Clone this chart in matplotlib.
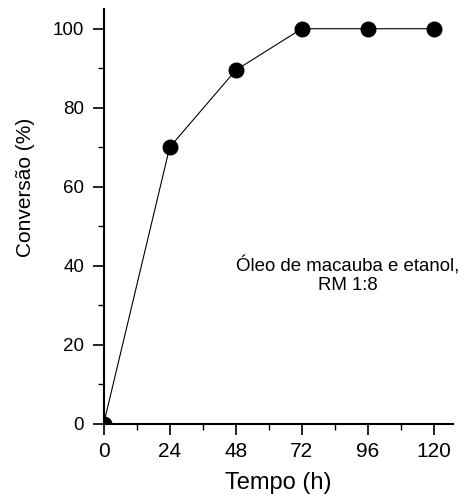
import matplotlib
matplotlib.use("Agg")
import matplotlib.pyplot as plt
from matplotlib.ticker import MultipleLocator

tempo = [0, 24, 48, 72, 96, 120]
conversao = [0, 70, 89.5, 100, 100, 100]
xticks = [0, 24, 48, 72, 96, 120]
yticks = [0, 20, 40, 60, 80, 100]

plt.rcParams['font.family'] = ['Liberation Sans', 'DejaVu Sans']

fig = plt.figure(figsize=(4.69, 4.98), dpi=100)
ax = fig.add_axes([0.221, 0.1486, 0.745, 0.8334])
ax.plot(tempo, conversao, color='black', lw=0.8, marker='o', ms=10.5,
        markerfacecolor='black', markeredgecolor='black')
ax.set_xlim(0, 127)
ax.set_ylim(0, 105)
ax.set_xticks(xticks)
ax.set_yticks(yticks)
ax.xaxis.set_minor_locator(MultipleLocator(12))
ax.yaxis.set_minor_locator(MultipleLocator(10))
for s in ['top', 'right']:
    ax.spines[s].set_visible(False)
for s in ['left', 'bottom']:
    ax.spines[s].set_linewidth(1.5)
ax.tick_params(which='major', direction='out', length=8, width=1.2)
ax.tick_params(axis='x', which='major', labelsize=15, pad=5)
ax.tick_params(axis='y', which='major', labelsize=13.5, pad=6)
ax.tick_params(which='minor', direction='out', length=4, width=1.0)
ax.set_xlabel('Tempo (h)', fontsize=17, labelpad=8)
ax.set_ylabel('Conversão (%)', fontsize=15)
ax.yaxis.set_label_coords(-0.197, 0.569)
ax.text(88.7, 37.6, 'Óleo de macauba e etanol,\nRM 1:8', ha='center', va='center',
        fontsize=13.4, linespacing=1.1)
fig.savefig('out.png', dpi=100)
